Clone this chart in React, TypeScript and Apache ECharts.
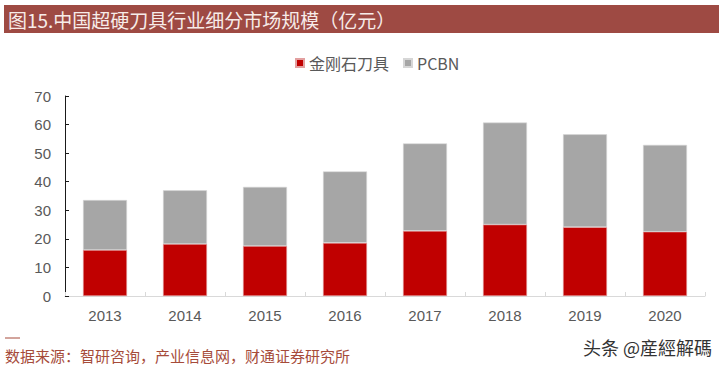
import React, { useEffect, useRef } from "react";
import * as echarts from "echarts";

const categories = ["2013", "2014", "2015", "2016", "2017", "2018", "2019", "2020"];
const diamondTools = [16.1, 18.2, 17.5, 18.6, 22.8, 25.0, 24.1, 22.5];
const pcbn = [17.5, 18.8, 20.7, 25.0, 30.6, 35.7, 32.5, 30.4];
const seriesNames = ["金刚石刀具", "PCBN"];
const yTicks = { min: 0, max: 70, interval: 10 };
const titleText = "图15.中国超硬刀具行业细分市场规模（亿元）";
const sourceText = "数据来源：智研咨询，产业信息网，财通证券研究所";
const watermarkText = "头条 @産經解碼";

const FONT = "'Noto Sans CJK SC', 'Liberation Sans', Arial, sans-serif";
const LABEL = "#595959";

export default function App() {
  const ref = useRef<HTMLDivElement>(null);
  useEffect(() => {
    document.body.style.margin = "0";
    const chart = echarts.init(ref.current!, undefined, { renderer: "svg" });
    chart.setOption({
      animation: false,
      backgroundColor: "#ffffff",
      textStyle: { fontFamily: FONT },
      legend: {
        data: seriesNames,
        top: 50,
        left: 290,
        itemWidth: 8,
        itemHeight: 8,
        itemGap: 14,
        icon: "rect",
        textStyle: { color: LABEL, fontSize: 16, fontFamily: FONT },
      },
      grid: { left: 65, right: 14, top: 96, bottom: 71, containLabel: false },
      xAxis: {
        type: "category",
        data: categories,
        axisLine: { show: true, lineStyle: { color: "#d9d9d9", width: 1 } },
        axisTick: { show: true, inside: true, length: 4, lineStyle: { color: "#d9d9d9" } },
        axisLabel: { color: LABEL, fontSize: 15, margin: 12, fontFamily: "'Liberation Sans', Arial, sans-serif" },
      },
      yAxis: {
        type: "value",
        min: yTicks.min,
        max: yTicks.max,
        interval: yTicks.interval,
        axisLine: { show: true, lineStyle: { color: "#1a1a1a", width: 1 } },
        axisTick: { show: true, inside: true, length: 4, lineStyle: { color: "#1a1a1a" } },
        axisLabel: { color: LABEL, fontSize: 15, margin: 14, fontFamily: "'Liberation Sans', Arial, sans-serif" },
        splitLine: { show: false },
      },
      series: [
        {
          name: seriesNames[0],
          type: "bar",
          stack: "total",
          data: diamondTools,
          barWidth: 44,
          itemStyle: { color: "#c00000", borderColor: "#e3a0a0", borderWidth: 0.6 },
        },
        {
          name: seriesNames[1],
          type: "bar",
          stack: "total",
          data: pcbn,
          barWidth: 44,
          itemStyle: { color: "#a6a6a6", borderColor: "#d6d6d6", borderWidth: 0.6 },
        },
      ],
      graphic: [
        {
          type: "rect",
          shape: { x: 4, y: 5, width: 715, height: 28 },
          style: { fill: "#9e4a43" },
          silent: true,
        },
        {
          type: "text",
          x: 8,
          y: 19,
          style: {
            text: titleText,
            fill: "#f7ece9",
            fontSize: 19,
            fontFamily: FONT,
            verticalAlign: "middle",
            align: "left",
          },
        },
        {
          type: "line",
          shape: { x1: 5, y1: 338, x2: 20, y2: 338 },
          style: { stroke: "#a64b3a", lineWidth: 1 },
        },
        {
          type: "text",
          x: 5,
          y: 355,
          style: {
            text: sourceText,
            fill: "#a64b3a",
            fontSize: 15,
            fontFamily: FONT,
            verticalAlign: "middle",
            align: "left",
          },
        },
        {
          type: "text",
          x: 712,
          y: 347,
          style: {
            text: watermarkText,
            fill: "#333333",
            fontSize: 18,
            fontFamily: FONT,
            verticalAlign: "middle",
            align: "right",
          },
        },
      ],
    });
    return () => chart.dispose();
  }, []);
  return <div ref={ref} style={{ width: 719, height: 367, position: "fixed", left: 0, top: 0 }} />;
}
